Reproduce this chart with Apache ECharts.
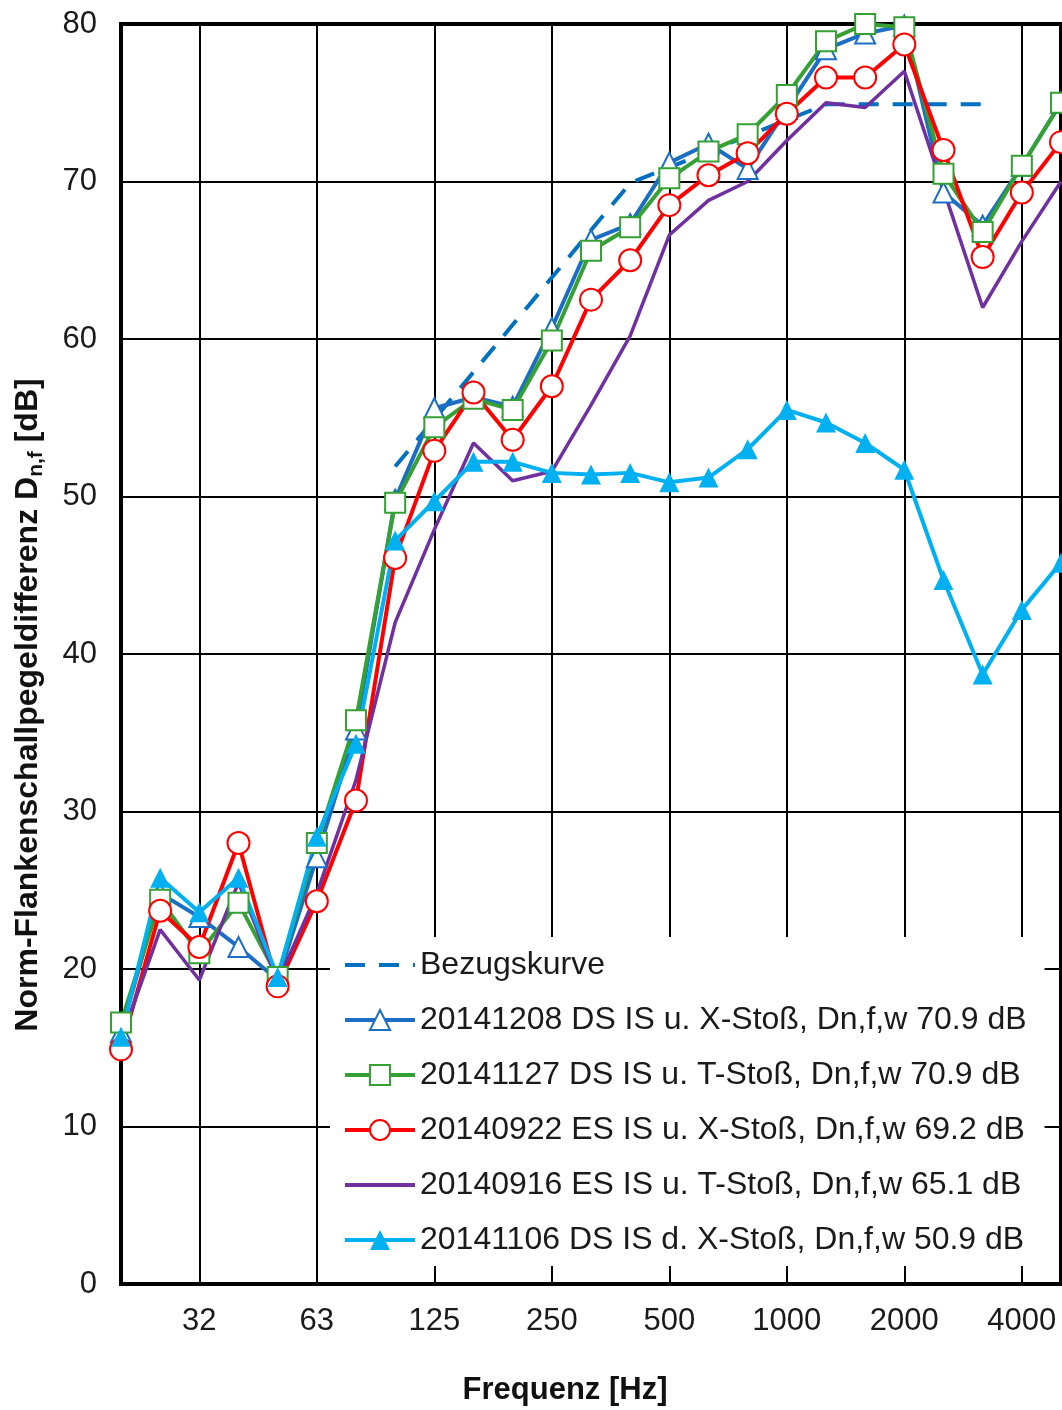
<!DOCTYPE html>
<html>
<head>
<meta charset="utf-8">
<script src="https://cdn.jsdelivr.net/npm/echarts@6/dist/echarts.min.js"></script>
<style>
html, body { margin: 0; padding: 0; background: #fff; }
#chart { width: 1062px; height: 1410px; }
</style>
</head>
<body>
<div id="chart"></div>
<script>
// Terzbaender 20 Hz .. 5000 Hz
var bands = ['20', '25', '31.5', '40', '50', '63', '80', '100', '125', '160', '200', '250', '315',
             '400', '500', '630', '800', '1000', '1250', '1600', '2000', '2500', '3150', '4000', '5000'];
// Oktav-Beschriftung
var labelBands = ['31.5', '63', '125', '250', '500', '1000', '2000', '4000'];
var tickLabels = ['32', '63', '125', '250', '500', '1000', '2000', '4000'];

var bezug = [null, null, null, null, null, null, null, 51.9, 54.9, 57.9, 60.9, 63.9, 66.9,
             69.9, 70.9, 71.9, 72.9, 73.9, 74.9, 74.9, 74.9, 74.9, 74.9, null, null];
var ds_x_u = [16.0, 24.8, 23.3, 21.4, 19.3, 27.1, 35.2, 49.8, 55.6, 56.3, 55.7, 60.7, 66.3,
              67.3, 71.2, 72.4, 70.8, 74.6, 78.4, 79.4, 79.9, 69.3, 67.2, 71.0, 75.0];
var ds_t_u = [16.6, 24.4, 21.0, 24.2, 19.5, 28.0, 35.8, 49.6, 54.4, 56.2, 55.5, 59.9, 65.6,
              67.1, 70.2, 71.9, 73.0, 75.5, 78.9, 80.0, 79.8, 70.5, 66.8, 71.0, 75.0];
var es_x_u = [14.9, 23.7, 21.4, 28.0, 18.9, 24.3, 30.7, 46.1, 52.9, 56.6, 53.6, 57.0, 62.5,
              65.0, 68.5, 70.4, 71.8, 74.3, 76.6, 76.6, 78.7, 72.0, 65.2, 69.3, 72.5];
var es_t_u = [15.5, 22.5, 19.3, 25.5, 19.2, 24.8, 32.0, 42.0, 47.9, 53.4, 51.0, 51.6, 55.8,
              60.2, 66.6, 68.8, 70.0, 72.6, 75.0, 74.7, 77.0, 69.5, 62.0, 66.2, 70.0];
var ds_x_d = [15.7, 25.8, 23.6, 25.8, 19.5, 28.4, 34.3, 47.2, 49.7, 52.2, 52.2, 51.5, 51.4,
              51.5, 50.9, 51.2, 53.0, 55.5, 54.7, 53.4, 51.7, 44.7, 38.7, 42.8, 45.8];

var names = ['Bezugskurve',
             '20141208 DS IS u. X-Stoß, Dn,f,w 70.9 dB',
             '20141127 DS IS u. T-Stoß, Dn,f,w 70.9 dB',
             '20140922 ES IS u. X-Stoß, Dn,f,w 69.2 dB',
             '20140916 ES IS u. T-Stoß, Dn,f,w 65.1 dB',
             '20141106 DS IS d. X-Stoß, Dn,f,w 50.9 dB'];

var FONT = '"Liberation Sans", Arial, sans-serif';
var isOctave = function (index, value) { return labelBands.indexOf(value) >= 0; };

var chart = echarts.init(document.getElementById('chart'));
var option = {
    animation: false,
    backgroundColor: '#fff',
    textStyle: { fontFamily: FONT },
    grid: {
        left: 121, right: 1, top: 24, bottom: 126,
        show: true, borderColor: '#000', borderWidth: 4
    },
    legend: {
        orient: 'vertical',
        left: 330, top: 937,
        padding: [12, 18, 10, 13],
        backgroundColor: '#fff',
        itemWidth: 70, itemHeight: 25, itemGap: 23,
        textStyle: { fontFamily: FONT, fontSize: 32, color: '#1a1a1a' },
        data: [
            { name: names[0], itemStyle: { opacity: 0 }, lineStyle: { width: 4 } },
            { name: names[1], lineStyle: { width: 4 } },
            { name: names[2], lineStyle: { width: 4 } },
            { name: names[3], lineStyle: { width: 4 } },
            { name: names[4], itemStyle: { opacity: 0 }, lineStyle: { width: 4 } },
            { name: names[5], lineStyle: { width: 4 } }
        ]
    },
    xAxis: {
        type: 'category',
        data: bands,
        boundaryGap: false,
        axisLine: { lineStyle: { color: '#000', width: 4 } },
        axisTick: { show: false },
        axisLabel: {
            interval: isOctave,
            margin: 22,
            fontSize: 31, color: '#1a1a1a', fontFamily: FONT,
            formatter: function (v) { return tickLabels[labelBands.indexOf(v)]; }
        },
        splitLine: { show: true, interval: isOctave, lineStyle: { color: '#000', width: 2 } }
    },
    yAxis: {
        type: 'value',
        min: 0, max: 80, interval: 10,
        axisLine: { show: true, lineStyle: { color: '#000', width: 4 } },
        axisTick: { show: false },
        axisLabel: { margin: 24, fontSize: 31, color: '#1a1a1a', fontFamily: FONT },
        splitLine: { lineStyle: { color: '#000', width: 2 } }
    },
    graphic: [
        {
            type: 'text', x: 28, y: 705, rotation: Math.PI / 2,
            style: {
                text: '{a|Norm-Flankenschallpegeldifferenz D}{s|n,f}{a| [dB]}',
                align: 'center', verticalAlign: 'middle',
                rich: {
                    a: { fontFamily: FONT, fontSize: 32, fontWeight: 'bold', fill: '#111', lineHeight: 38 },
                    s: { fontFamily: FONT, fontSize: 21, fontWeight: 'bold', fill: '#111', lineHeight: 24, verticalAlign: 'bottom' }
                }
            }
        },
        {
            type: 'text', x: 565, y: 1390,
            style: {
                text: 'Frequenz [Hz]', fontFamily: FONT, fontSize: 31, fontWeight: 'bold',
                fill: '#111', align: 'center', verticalAlign: 'middle'
            }
        }
    ],
    series: [
        {
            name: names[0], type: 'line', data: bezug, symbol: 'none',
            lineStyle: { color: '#0070C0', width: 4, type: [20, 14] },
            itemStyle: { color: '#0070C0' }
        },
        {
            name: names[1], type: 'line', data: ds_x_u, symbol: 'triangle', symbolSize: 20,
            lineStyle: { color: '#1C6EC4', width: 4 },
            itemStyle: { color: '#fff', borderColor: '#1C6EC4', borderWidth: 2 }
        },
        {
            name: names[2], type: 'line', data: ds_t_u, symbol: 'rect', symbolSize: 20,
            lineStyle: { color: '#35A033', width: 4 },
            itemStyle: { color: '#fff', borderColor: '#35A033', borderWidth: 2 }
        },
        {
            name: names[3], type: 'line', data: es_x_u, symbol: 'circle', symbolSize: 22,
            lineStyle: { color: '#FF0000', width: 4 },
            itemStyle: { color: '#fff', borderColor: '#FF0000', borderWidth: 2 }
        },
        {
            name: names[4], type: 'line', data: es_t_u, symbol: 'none',
            lineStyle: { color: '#7030A0', width: 3.5 },
            itemStyle: { color: '#7030A0' }
        },
        {
            name: names[5], type: 'line', data: ds_x_d, symbol: 'triangle', symbolSize: 20,
            lineStyle: { color: '#00B0F0', width: 4 },
            itemStyle: { color: '#00B0F0' }
        }
    ]
};
chart.setOption(option);
</script>
</body>
</html>
